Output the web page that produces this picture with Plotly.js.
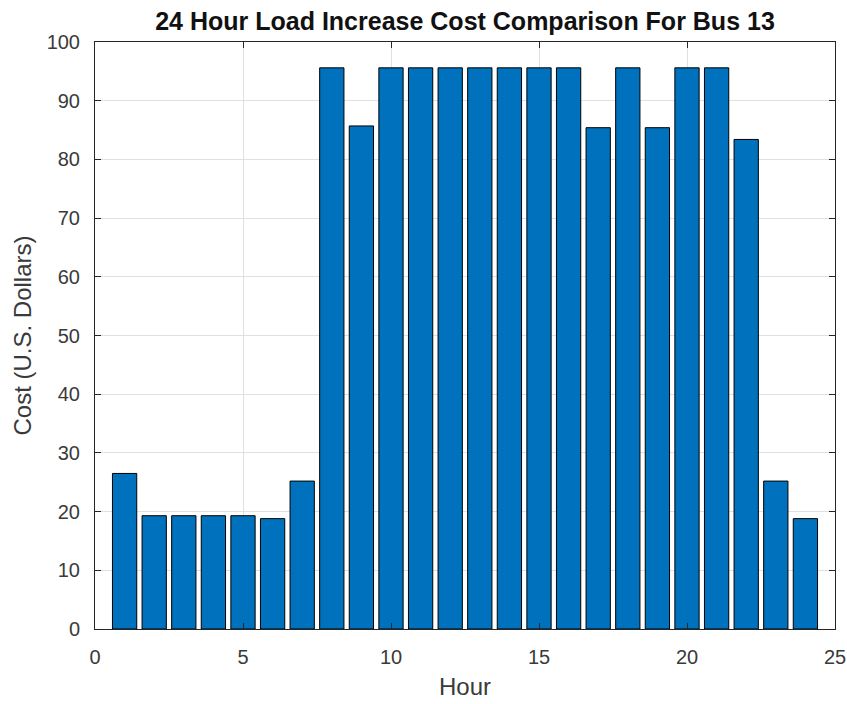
<!DOCTYPE html>
<html>
<head>
<meta charset="utf-8">
<script src="https://cdn.plot.ly/plotly-3.0.1.min.js"></script>
<style>html,body{margin:0;padding:0;background:#fff;}#chart{width:847px;height:704px;}</style>
</head>
<body>
<div id="chart"></div>
<script>
const hours = [1,2,3,4,5,6,7,8,9,10,11,12,13,14,15,16,17,18,19,20,21,22,23,24];
const cost = [26.5,19.3,19.3,19.3,19.3,18.8,25.2,95.6,85.7,95.6,95.6,95.6,95.6,95.6,95.6,95.6,85.4,95.6,85.4,95.6,95.6,83.4,25.2,18.8];
const xTicks = [0,5,10,15,20,25];
const yTicks = [0,10,20,30,40,50,60,70,80,90,100];

const FONT = 'Liberation Sans, Arial, Helvetica, sans-serif';
const trace = {
  type: 'bar', x: hours, y: cost, width: 0.82,
  marker: {color: '#0072BD', line: {color: '#000000', width: 1}},
  hoverinfo: 'x+y'
};
const axisCommon = {
  showline: true, mirror: 'ticks', linecolor: '#262626', linewidth: 1,
  ticks: 'inside', ticklen: 6, tickcolor: '#262626',
  showgrid: true, gridcolor: '#e0e0e0', gridwidth: 1,
  zeroline: false,
  tickfont: {family: FONT, size: 20, color: '#3a3a3a'}
};
const layout = {
  width: 847, height: 704,
  margin: {l: 95, r: 12, t: 42, b: 75},
  paper_bgcolor: '#ffffff', plot_bgcolor: '#ffffff',
  showlegend: false,
  title: {text: '<b>24 Hour Load Increase Cost Comparison For Bus 13</b>',
    xref: 'paper', x: 0.5, xanchor: 'center', yref: 'container', y: 0.970, yanchor: 'middle',
    font: {family: FONT, size: 25, color: '#111111'}},
  xaxis: Object.assign({}, axisCommon, {
    range: [0, 25], tickvals: xTicks, ticklabelstandoff: 10,
    title: {text: 'Hour', font: {family: FONT, size: 24, color: '#3a3a3a'}, standoff: 11}
  }),
  yaxis: Object.assign({}, axisCommon, {
    range: [0, 100], tickvals: yTicks, ticklabelstandoff: 10,
    title: {text: 'Cost (U.S. Dollars)', font: {family: FONT, size: 24, color: '#3a3a3a'}, standoff: 8}
  })
};
Plotly.newPlot('chart', [trace], layout, {displayModeBar: false, staticPlot: true});
</script>
</body>
</html>
